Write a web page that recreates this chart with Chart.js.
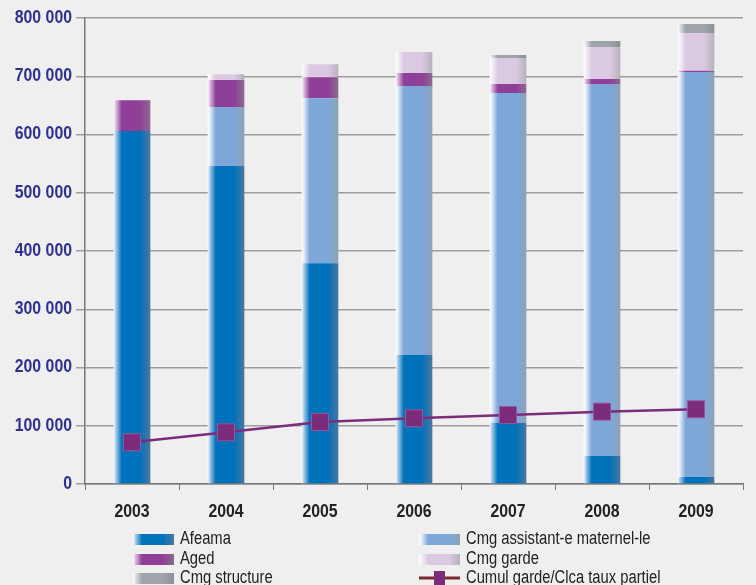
<!DOCTYPE html>
<html>
<head>
<meta charset="utf-8">
<script src="https://cdn.jsdelivr.net/npm/chart.js@4/dist/chart.umd.min.js"></script>
<style>
  html, body { margin: 0; padding: 0; background: #efefef; }
  #wrap { width: 756px; height: 585px; }
</style>
</head>
<body>
<div id="wrap"><canvas id="chart" width="756" height="585"></canvas></div>
<script>
const years = ['2003', '2004', '2005', '2006', '2007', '2008', '2009'];

const afeama = [606000, 546000, 379000, 221500, 105300, 48100, 12000];
const cmgAssistant = [0, 101000, 283200, 461800, 565900, 638600, 695300];
const aged = [53000, 46500, 36000, 22300, 15500, 8600, 2000];
const cmgGarde = [0, 10000, 22400, 36000, 44600, 54900, 65000];
const cmgStructure = [0, 0, 0, 0, 5200, 10300, 15500];
const cumulGarde = [71600, 88700, 106400, 112800, 118500, 124200, 128200];

const FONT = "'Liberation Sans', Arimo, sans-serif";
const NARROW = 0.88; // squeeze to look like a condensed face
const BAR_PCT = 0.39;

// base, left highlight, right shade
const shades = {
  afeama: ['#0072bc', '#a9cbe8', '#4a77a0'],
  assistant: ['#7da7d9', '#e4edf8', '#8ea2b8'],
  aged: ['#8f3f97', '#dcbddf', '#8a6a90'],
  garde: ['#dbc9e2', '#f6f1f8', '#b8b2bc'],
  structure: ['#9ea4aa', '#dfe2e5', '#8c9196'],
};

function shadeGradient(c, x0, x1, s) {
  const g = c.createLinearGradient(x0, 0, x1, 0);
  g.addColorStop(0, '#ffffff');
  g.addColorStop(0.06, s[1]);
  g.addColorStop(0.22, s[0]);
  g.addColorStop(0.72, s[0]);
  g.addColorStop(1, s[2]);
  return g;
}

function barFill(s) {
  return (ctx) => {
    const chart = ctx.chart;
    const xs = chart.scales.x;
    if (!xs || !chart.chartArea || ctx.dataIndex == null) return s[0];
    const cx = xs.getPixelForValue(ctx.dataIndex);
    const w = xs.width / years.length * BAR_PCT;
    return shadeGradient(chart.ctx, cx - w / 2, cx + w / 2, s);
  };
}

function fmt(v) {
  return String(v).replace(/\B(?=(\d{3})+(?!\d))/g, ' ');
}

function barSet(label, data, s) {
  return {
    type: 'bar',
    label: label,
    data: data,
    stack: 'bars',
    order: 1,
    backgroundColor: barFill(s),
    legendShade: s,
    borderWidth: 0,
    categoryPercentage: 1,
    barPercentage: BAR_PCT,
  };
}

function squeezedText(c, txt, x, y, align, sx) {
  c.save();
  c.translate(x, y);
  c.scale(sx, 1);
  c.textAlign = align;
  c.fillText(txt, 0, 0);
  c.restore();
}

// tick labels drawn narrow, positions from the scales
const tickLabels = {
  id: 'tickLabels',
  afterDraw(chart) {
    const c = chart.ctx;
    const xs = chart.scales.x;
    const ys = chart.scales.y;
    c.save();
    c.font = 'bold 18px ' + FONT;
    c.textBaseline = 'middle';
    c.fillStyle = '#2e3192';
    ys.ticks.forEach((t, i) => {
      squeezedText(c, fmt(t.value), ys.right - 13, ys.getPixelForTick(i), 'right', NARROW);
    });
    c.fillStyle = '#222';
    xs.ticks.forEach((t, i) => {
      squeezedText(c, years[t.value], xs.getPixelForTick(i), xs.top + 28, 'center', NARROW);
    });
    c.restore();
  }
};

// legend in two columns under the chart
const legendPlugin = {
  id: 'twoColLegend',
  afterDraw(chart) {
    const c = chart.ctx;
    const ds = chart.data.datasets;
    const order = [1, 2, 3, 4, 5, 0]; // Afeama, Cmg assistant, Aged, Cmg garde, Cmg structure, Cumul
    const cols = [133, 419];
    const rows = [539, 559, 578];
    c.save();
    c.font = '18px ' + FONT;
    c.textBaseline = 'middle';
    order.forEach((di, k) => {
      const d = ds[di];
      const x = cols[k % 2];
      const y = rows[Math.floor(k / 2)];
      if (d.type === 'line') {
        c.strokeStyle = '#7a2a2e';
        c.lineWidth = 3;
        c.beginPath();
        c.moveTo(x, y);
        c.lineTo(x + 41, y);
        c.stroke();
        c.fillStyle = '#7b2c7a';
        c.fillRect(x + 15, y - 7, 11, 14);
      } else {
        c.fillStyle = shadeGradient(c, x, x + 41, d.legendShade);
        c.fillRect(x, y - 5, 41, 11);
      }
      c.fillStyle = '#222';
      squeezedText(c, d.label, x + 47, y, 'left', 0.82);
    });
    c.restore();
  }
};

new Chart(document.getElementById('chart'), {
  data: {
    labels: years,
    datasets: [
      {
        type: 'line',
        label: 'Cumul garde/Clca taux partiel',
        data: cumulGarde,
        stack: 'line',
        order: 0,
        borderColor: '#7b2c7a',
        borderWidth: 2.5,
        pointStyle: 'rect',
        pointRadius: 12,
        pointBackgroundColor: '#7b2c7a',
        pointBorderColor: '#9a5498',
        pointBorderWidth: 1,
        tension: 0,
      },
      barSet('Afeama', afeama, shades.afeama),
      barSet('Cmg assistant-e maternel-le', cmgAssistant, shades.assistant),
      barSet('Aged', aged, shades.aged),
      barSet('Cmg garde', cmgGarde, shades.garde),
      barSet('Cmg structure', cmgStructure, shades.structure),
    ],
  },
  plugins: [tickLabels, legendPlugin],
  options: {
    responsive: false,
    animation: false,
    layout: { padding: { top: 18, right: 7, bottom: 61, left: 0 } },
    plugins: {
      legend: { display: false },
      tooltip: { enabled: false },
      title: { display: false },
    },
    scales: {
      x: {
        stacked: true,
        afterFit: (s) => { s.height = 40; },
        grid: {
          offset: true,
          drawOnChartArea: false,
          color: '#777',
          tickLength: 6,
        },
        border: { display: true, color: '#777', width: 1.5 },
        ticks: { display: false },
      },
      y: {
        stacked: true,
        min: 0,
        max: 800000,
        afterFit: (s) => { s.width = 85; },
        grid: {
          color: '#9d9d9d',
          lineWidth: 1.5,
          tickLength: 9,
        },
        border: { display: true, color: '#777', width: 1.5 },
        ticks: { display: false, stepSize: 100000 },
      },
    },
  },
});
</script>
</body>
</html>
